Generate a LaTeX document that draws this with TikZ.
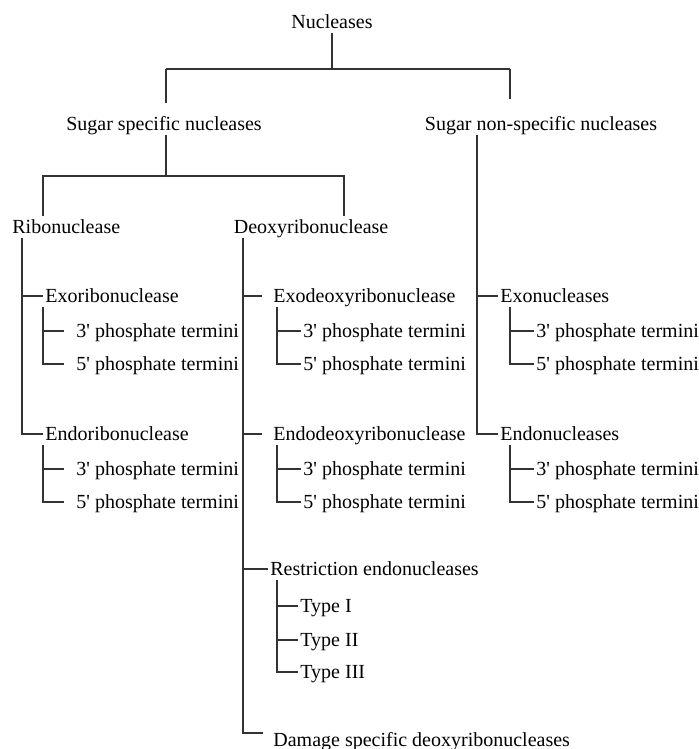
\documentclass[tikz,border=0pt]{standalone}
\usepackage{fontspec}
\setmainfont{Liberation Serif}
\usepackage{tikz}
\usetikzlibrary{calc}

\begin{document}
\begin{tikzpicture}[x=0.5pt,y=-0.5pt,
	item/.style={anchor=west,inner xsep=1pt,inner ysep=2pt,text height=6.5pt,text depth=0pt,font=\fontsize{10}{12}\selectfont},
	head/.style={item,anchor=center},
	link/.style={line width=0.8pt,black!80},
	gap/.style={link,shorten >=4.5pt}]
	\def\xR{22}
	\def\xD{243}
	\def\xN{477}
\useasboundingbox (0,0) rectangle (699,749);

%Titres
\node[head] (nuc) at (332,22) {Nucleases};
\node[head] (ssn) at (164,124) {Sugar specific nucleases};
\node[head] (snn) at (541,124) {Sugar non-specific nucleases};
\node[item] (ribo) at (10,227) {Ribonuclease};
\node[item] (deoxy) at (231.5,227) {Deoxyribonuclease};

%Branches
\node[item] (exr) at (43,296) {Exoribonuclease};
\node[item] (endr) at (43,434) {Endoribonuclease};
\node[item] (exd) at (271,296) {Exodeoxyribonuclease};
\node[item] (endd) at (271,434) {Endodeoxyribonuclease};
\node[item] (restr) at (268,569) {Restriction endonucleases};
\node[item,anchor=north west,inner ysep=0pt] (dam) at (271,733) {Damage specific deoxyribonucleases};
\node[item] (exn) at (498,296) {Exonucleases};
\node[item] (endn) at (498,434) {Endonucleases};
\node[item] (tI) at (298,606) {Type I};
\node[item] (tII) at (298,640) {Type II};
\node[item] (tIII) at (298,672) {Type III};

%Barres
\coordinate (b1l) at (166,69);
\coordinate (b1r) at (510,69);
\coordinate (b2l) at (43,176);
\coordinate (b2r) at (344,176);
\draw[link] (nuc) -- (nuc |- b1l);
\draw[link] (b1l) -- (b1r);
\draw[link,shorten >=5pt] (b1l) -- (b1l |- ssn.north);
\draw[link,shorten >=7pt] (b1r) -- (b1r |- snn.north);
\draw[link] (ssn.south -| b1l) -- (b1l |- b2l);
\draw[link] (b2l |- ribo.north) -- (b2l) -- (b2r) -- (b2r |- deoxy.north);

%Troncs
\draw[link] (ribo.south -| \xR,0) |- (endr.west);
\draw[link] (exr.west -| \xR,0) -- (exr.west);
\draw[link,shorten >=4pt] (deoxy.south -| \xD,0) |- (dam.north west);
\draw[gap] (exd.west -| \xD,0) -- (exd.west);
\draw[gap] (endd.west -| \xD,0) -- (endd.west);
\draw[link] (restr.west -| \xD,0) -- (restr.west);
\draw[link] (snn.south -| \xN,0) |- (endn.west);
\draw[link] (exn.west -| \xN,0) -- (exn.west);

%Termini
\foreach \p/\sx/\tx/\g in {exr/43/74/5pt, endr/43/74/5pt, exd/277/301/0pt, endd/277/301/0pt, exn/510/534/0pt, endn/510/534/0pt}{
	\node[item] (\p3) at ($(\tx,0 |- \p.west)+(0,35)$) {3\textquotesingle{} phosphate termini};
	\node[item] (\p5) at ($(\tx,0 |- \p.west)+(0,68)$) {5\textquotesingle{} phosphate termini};
	\draw[link,shorten >=\g] (\p.south -| \sx,0) |- (\p5.west);
	\draw[link,shorten >=\g] (\p3.west -| \sx,0) -- (\p3.west);
}

%Types
\draw[link] (restr.south -| 277,0) |- (tIII.west);
\draw[link] (tI.west -| 277,0) -- (tI.west);
\draw[link] (tII.west -| 277,0) -- (tII.west);

\end{tikzpicture}
\end{document}
